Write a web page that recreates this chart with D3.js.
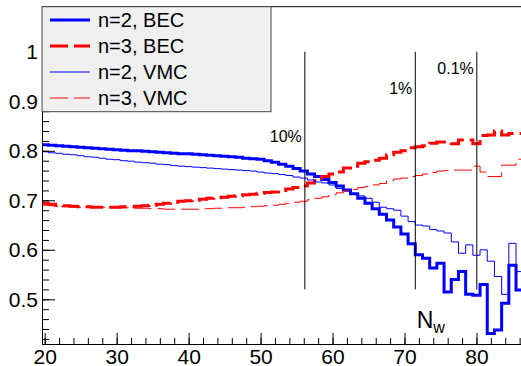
<!DOCTYPE html>
<html>
<head>
<meta charset="utf-8">
<script src="https://cdn.jsdelivr.net/npm/d3@7"></script>
<style>
  body { margin: 0; background: #fff; }
  svg { display: block; font-family: "Liberation Sans", Arial, sans-serif; }
</style>
</head>
<body>
<svg id="chart" width="521" height="366"></svg>
<script>
// bin centres N_w = 20 .. 86
var nw = d3.range(20, 87);

var bec2 = [0.812, 0.811, 0.810, 0.809, 0.808, 0.807, 0.806, 0.805, 0.804, 0.803,
            0.802, 0.801, 0.800, 0.800, 0.799, 0.798, 0.797, 0.796, 0.795, 0.794,
            0.794, 0.793, 0.792, 0.791, 0.790, 0.789, 0.788, 0.787, 0.785, 0.784,
            0.783, 0.780, 0.777, 0.773, 0.769, 0.764, 0.759, 0.753, 0.748, 0.742,
            0.736, 0.729, 0.721, 0.713, 0.704, 0.694, 0.683, 0.672, 0.660, 0.646,
            0.632, 0.612, 0.590, 0.583, 0.563, 0.573, 0.515, 0.540, 0.556, 0.510,
            0.508, 0.530, 0.431, 0.438, 0.492, 0.569, 0.519];

var bec3 = [0.694, 0.692, 0.690, 0.689, 0.688, 0.687, 0.687, 0.686, 0.686, 0.686,
            0.686, 0.687, 0.687, 0.688, 0.689, 0.690, 0.692, 0.694, 0.696, 0.698,
            0.699, 0.700, 0.702, 0.704, 0.705, 0.706, 0.708, 0.709, 0.711, 0.712,
            0.714, 0.716, 0.717, 0.720, 0.723, 0.726, 0.729, 0.735, 0.740, 0.748,
            0.753, 0.757, 0.765, 0.769, 0.775, 0.778, 0.781, 0.785, 0.792, 0.797,
            0.800, 0.806, 0.808, 0.810, 0.815, 0.818, 0.818, 0.814, 0.822, 0.822,
            0.814, 0.831, 0.832, 0.840, 0.832, 0.835, 0.835];

var vmc2 = [0.798, 0.796, 0.795, 0.793, 0.792, 0.790, 0.788, 0.787, 0.785, 0.783,
            0.782, 0.780, 0.779, 0.777, 0.776, 0.775, 0.773, 0.772, 0.770, 0.769,
            0.768, 0.767, 0.766, 0.765, 0.764, 0.763, 0.762, 0.761, 0.760, 0.759,
            0.757, 0.755, 0.754, 0.752, 0.750, 0.747, 0.745, 0.741, 0.737, 0.735,
            0.731, 0.724, 0.719, 0.713, 0.709, 0.704, 0.696, 0.686, 0.683, 0.680,
            0.668, 0.657, 0.650, 0.648, 0.641, 0.638, 0.634, 0.616, 0.593, 0.610,
            0.589, 0.600, 0.577, 0.546, 0.510, 0.613, 0.556];

var vmc3 = [0.690, 0.689, 0.688, 0.687, 0.686, 0.686, 0.686, 0.686, 0.686, 0.686,
            0.685, 0.685, 0.685, 0.684, 0.684, 0.683, 0.683, 0.682, 0.682, 0.682,
            0.682, 0.682, 0.683, 0.683, 0.684, 0.684, 0.685, 0.685, 0.686, 0.687,
            0.688, 0.689, 0.690, 0.692, 0.694, 0.696, 0.698, 0.701, 0.704, 0.707,
            0.711, 0.715, 0.719, 0.722, 0.726, 0.728, 0.731, 0.734, 0.740, 0.743,
            0.745, 0.748, 0.750, 0.753, 0.756, 0.759, 0.760, 0.761, 0.761, 0.761,
            0.769, 0.757, 0.748, 0.748, 0.771, 0.771, 0.783];

var seriesLabels = ["n=2, BEC", "n=3, BEC", "n=2, VMC", "n=3, VMC"];

// efficiency cuts drawn as vertical markers
var cutN = [56.15, 71.5, 80.05];
var cutLabels = ["10%", "1%", "0.1%"];
var cutLabelY = [0.818, 0.915, 0.955];

var xMajor = [20, 30, 40, 50, 60, 70, 80];
var yMajor = [0.5, 0.6, 0.7, 0.8, 0.9, 1];

var svg = d3.select("#chart"),
    x = d3.scaleLinear().domain([19.625, 86.19]).range([42, 521]),
    y = d3.scaleLinear().domain([0.4097, 1.0911]).range([344, 6.7]);

var styles = [
    { color: "#0000ff", width: 3, dash: null },
    { color: "#ff0000", width: 3, dash: "18,6" },
    { color: "#0000ff", width: 1, dash: null },
    { color: "#ff0000", width: 1, dash: "18,6" }
];
var allSeries = [bec2, bec3, vmc2, vmc3];

svg.append("clipPath").attr("id", "frame")
    .append("rect")
    .attr("x", x.range()[0]).attr("y", y.range()[1])
    .attr("width", x.range()[1] - x.range()[0])
    .attr("height", y.range()[0] - y.range()[1]);

function stepPoints(values) {
    var pts = values.map(function (v, i) { return [nw[i] - 0.5, v]; });
    pts.push([nw[nw.length - 1] + 0.5, values[values.length - 1]]);
    return pts;
}

var line = d3.line()
    .x(function (d) { return x(d[0]); })
    .y(function (d) { return y(d[1]); })
    .curve(d3.curveStepAfter);

var plot = svg.append("g").attr("clip-path", "url(#frame)");

plot.selectAll("path.hist")
    .data(allSeries)
    .enter().append("path")
    .attr("class", "hist")
    .attr("d", function (d) { return line(stepPoints(d)); })
    .attr("fill", "none")
    .attr("stroke", function (d, i) { return styles[i].color; })
    .attr("stroke-width", function (d, i) { return styles[i].width; })
    .attr("stroke-dasharray", function (d, i) { return styles[i].dash; })
    .attr("stroke-linejoin", "miter");

// cut lines + labels
plot.selectAll("line.cut")
    .data(cutN)
    .enter().append("line")
    .attr("class", "cut")
    .attr("x1", function (d) { return x(d); })
    .attr("x2", function (d) { return x(d); })
    .attr("y1", y(1.0))
    .attr("y2", y(0.52))
    .attr("stroke", "#000")
    .attr("stroke-width", 1);

svg.selectAll("text.cut")
    .data(cutN)
    .enter().append("text")
    .attr("class", "cut")
    .attr("x", function (d) { return x(d) - 3; })
    .attr("y", function (d, i) { return y(cutLabelY[i]); })
    .attr("text-anchor", "end")
    .attr("font-size", 16)
    .text(function (d, i) { return cutLabels[i]; });

// axes
var fmtY = function (d) { return d === 1 ? "1" : d.toFixed(1); };

var xg = svg.append("g").attr("transform", "translate(0," + y.range()[0] + ")");
xg.call(d3.axisBottom(x).tickValues(d3.range(20, 87, 2)).tickSize(-6).tickSizeOuter(0).tickFormat(""));
xg.append("g").call(d3.axisBottom(x).tickValues(xMajor).tickSize(-11).tickSizeOuter(0).tickPadding(5).tickFormat(d3.format("d")));

var yg = svg.append("g").attr("transform", "translate(" + x.range()[0] + ",0)");
yg.call(d3.axisLeft(y).tickValues(d3.range(21, 55).map(function (k) { return k / 50; })).tickSize(-7).tickSizeOuter(0).tickFormat(""));
yg.append("g").call(d3.axisLeft(y).tickValues(yMajor).tickSize(-13).tickSizeOuter(0).tickPadding(4).tickFormat(fmtY));

svg.selectAll(".tick text").attr("font-size", 21).attr("font-family", null).attr("fill", "#000");
svg.selectAll(".domain, .tick line").attr("stroke", "#000");

svg.append("line")
    .attr("x1", x.range()[0]).attr("x2", x.range()[1])
    .attr("y1", y.range()[1]).attr("y2", y.range()[1])
    .attr("stroke", "#000");

// N_w axis title
var title = svg.append("text")
    .attr("x", x(71.7))
    .attr("y", y(0.4415))
    .attr("font-size", 23);
title.append("tspan").text("N");
title.append("tspan").attr("font-size", 16).attr("dy", 5).text("w");

// legend
var legend = svg.append("g");
legend.append("rect")
    .attr("x", 42).attr("y", 6.7)
    .attr("width", 229).attr("height", 105)
    .attr("fill", "#f0f0f0")
    .attr("stroke", "#444")
    .attr("stroke-width", 1);

var items = legend.selectAll("g.item")
    .data(seriesLabels)
    .enter().append("g")
    .attr("class", "item")
    .attr("transform", function (d, i) { return "translate(50," + (20 + i * 26) + ")"; });

items.append("line")
    .attr("x1", 0).attr("x2", 40)
    .attr("stroke", function (d, i) { return styles[i].color; })
    .attr("stroke-width", function (d, i) { return styles[i].width; })
    .attr("stroke-dasharray", function (d, i) { return styles[i].dash; });

items.append("text")
    .attr("x", 48)
    .attr("dy", "0.36em")
    .attr("font-size", 20)
    .text(function (d) { return d; });
</script>
</body>
</html>
